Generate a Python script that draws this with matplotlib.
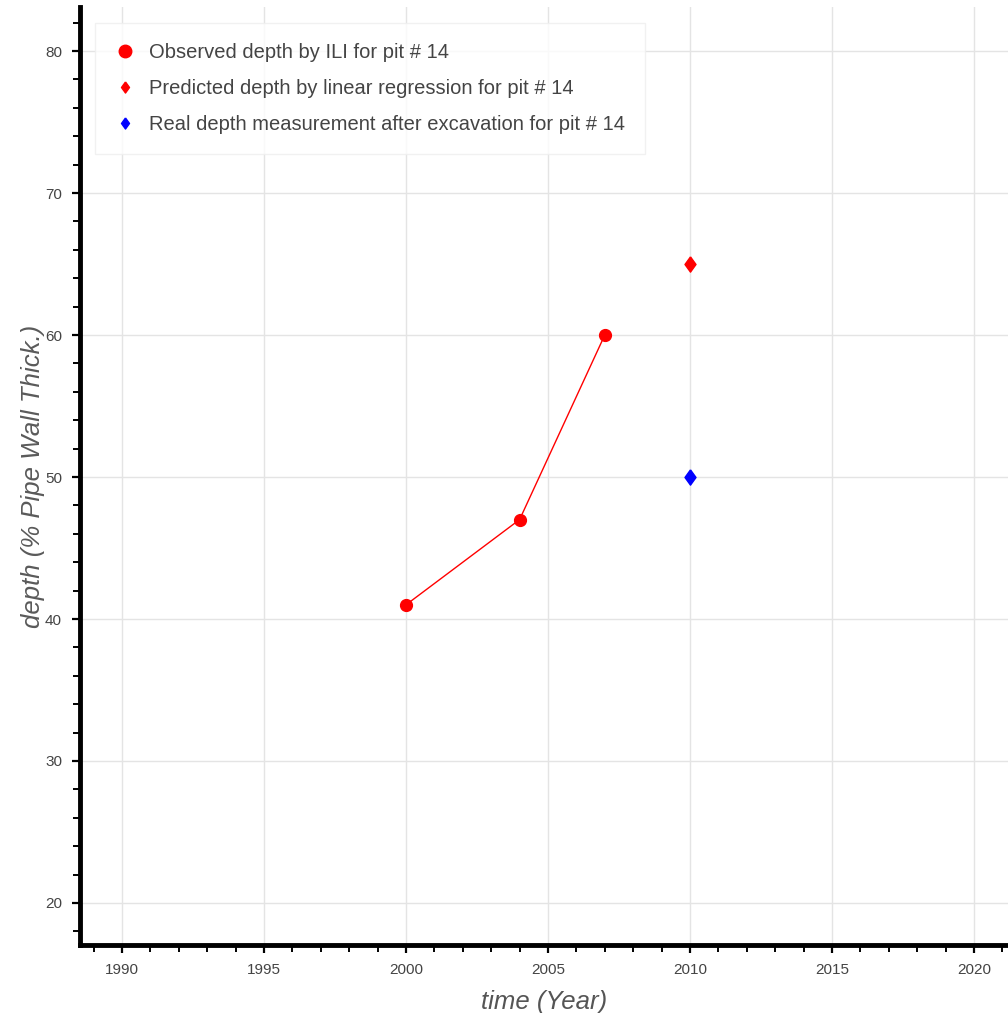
import matplotlib.pyplot as plt
from matplotlib.ticker import MultipleLocator

plt.rcParams['font.family'] = ['Liberation Sans', 'DejaVu Sans']

# ILI inspections of pit 14
obs_years = [2000, 2004, 2007]
obs_depth = [41, 47, 60]

# linear regression prediction vs. dig result
pred_year = [2010]
pred_depth = [65]
real_year = [2010]
real_depth = [50]

# slightly wide diamond
diamond = [(0, 1), (0.72, 0), (0, -1), (-0.72, 0), (0, 1)]

fig = plt.figure(figsize=(10.08, 10.13), dpi=100)
ax = fig.add_axes([0.0794, 0.0671, 0.9206, 0.926])

ax.plot(obs_years, obs_depth, color='red', lw=1.0, zorder=2)
ax.plot(obs_years, obs_depth, 'o', color='red', ms=8.5, ls='none',
        label='Observed depth by ILI for pit # 14', zorder=3)
ax.plot(pred_year, pred_depth, marker=diamond, color='red', ms=11, ls='none',
        label='Predicted depth by linear regression for pit # 14', zorder=3)
ax.plot(real_year, real_depth, marker=diamond, color='blue', ms=11, ls='none',
        label='Real depth measurement after excavation for pit # 14', zorder=3)

ax.set_xlim(1988.52, 2021.2)
ax.set_ylim(17.04, 83.1)

ax.xaxis.set_major_locator(MultipleLocator(5))
ax.xaxis.set_minor_locator(MultipleLocator(1))
ax.yaxis.set_major_locator(MultipleLocator(10))
ax.yaxis.set_minor_locator(MultipleLocator(2))

ax.grid(True, which='major', color='#e4e4e4', lw=1)
ax.set_axisbelow(True)

for side in ['top', 'right']:
    ax.spines[side].set_visible(False)
for side in ['left', 'bottom']:
    ax.spines[side].set_linewidth(3.5)
    ax.spines[side].set_color('black')

ax.tick_params(which='major', direction='out', length=6, width=1.6,
               color='black', labelsize=11, labelcolor='#444444', pad=7)
ax.tick_params(which='minor', direction='out', length=5, width=1.4,
               color='black')

ax.set_xlabel('time (Year)', fontsize=18.5, style='italic', color='#555555',
              labelpad=9)
ax.set_ylabel('depth (% Pipe Wall Thick.)', fontsize=18.5, style='italic',
              color='#5a5a5a', labelpad=0)

leg = ax.legend(loc='upper left', bbox_to_anchor=(0.016, 0.983), fontsize=14.5,
                frameon=True, fancybox=False, edgecolor='#eeeeee',
                borderpad=1.0, labelspacing=0.85, handletextpad=0.7,
                handlelength=1.0, borderaxespad=0)
for t in leg.get_texts():
    t.set_color('#444444')
leg.get_frame().set_linewidth(1)
hs = leg.legend_handles
hs[0].set_markersize(9)
hs[1].set_markersize(8)
hs[2].set_markersize(8)

fig.savefig('out.png', dpi=100)
